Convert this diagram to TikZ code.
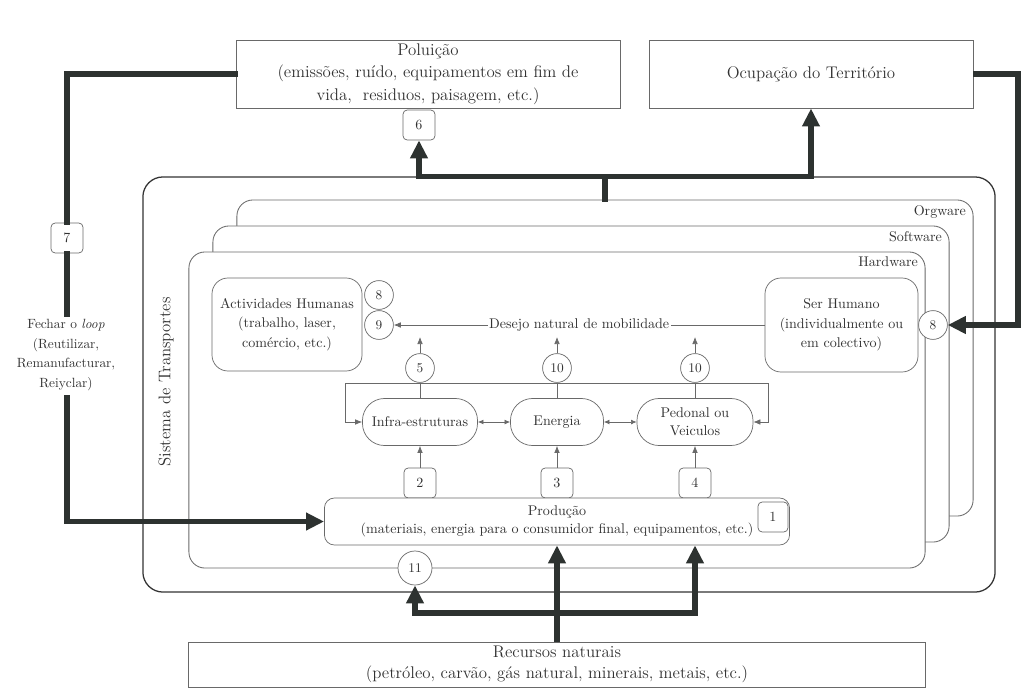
\documentclass[tikz,border=0pt]{standalone}
\usepackage{xcolor}
\definecolor{dgray}{RGB}{45,50,48}
\definecolor{lgray}{RGB}{105,105,105}
\definecolor{tgray}{RGB}{50,50,50}
\usetikzlibrary{arrows.meta,positioning,calc}

\begin{document}
\begin{tikzpicture}[
  x=0.025cm, y=-0.025cm,
  every node/.style={text=tgray},
  bigbox/.style={draw=lgray,line width=0.6pt,align=center,inner sep=0pt,
                 font=\fontsize{12}{16}\selectfont},
  layer/.style={draw=lgray,line width=0.6pt,fill=white,rounded corners=0.4cm,
                minimum width=18.4cm,minimum height=7.9cm},
  roundbox/.style={draw=lgray,line width=0.5pt,fill=white,rounded corners=0.4cm,
                   align=center,font=\fontsize{10}{14}\selectfont},
  pill/.style={draw=lgray,line width=0.5pt,fill=white,rounded corners=0.55cm,
               align=center,minimum height=1.175cm,inner sep=0pt,
               font=\fontsize{10}{12.5}\selectfont},
  num/.style={draw=lgray,line width=0.5pt,fill=white,rounded corners=3pt,
              minimum width=0.8cm,minimum height=0.75cm,inner sep=0pt,
              font=\fontsize{10}{11}\selectfont},
  numc/.style={draw=lgray,line width=0.5pt,fill=white,circle,minimum size=0.72cm,
               inner sep=0pt,font=\fontsize{9.5}{10}\selectfont},
  lyr/.style={font=\fontsize{10}{12}\selectfont,anchor=north east,inner sep=1pt},
  link/.style={draw=lgray,line width=0.5pt},
  tip/.style={-{Latex[length=5pt,width=4pt]}},
  bigline/.style={draw=dgray,line width=4pt,line cap=rect},
  bigarrow/.style={draw=dgray,line width=4pt,-{Triangle[length=0.45cm,width=0.42cm]}},
]
  \useasboundingbox (0,0) rectangle (1022,692);

  % Outputs of the system
  \node[bigbox,minimum width=9.6cm,minimum height=1.7cm] (pol) at (428,74)
       {Poluição\\(emissões, ruído, equipamentos em fim de\\vida,\ \ residuos, paisagem, etc.)};
  \node[bigbox,minimum width=8.1cm,minimum height=1.7cm] (ocup) at (811,74) {Ocupação do Território};
  \node[num] (n6) at (419,125) {6};

  % Transport system and its layers
  \node[draw=black!80,line width=0.9pt,rounded corners=0.5cm,
        minimum width=21.3cm,minimum height=10.375cm] (sys) at (569,384.5) {};
  \node[layer] (org)  at (605,358) {};
  \node[layer] (soft) at (581,384) {};
  \node[layer] (hard) at (557,410) {};
  \node[lyr] at ($(org.north east)+(-6,4)$)  {Orgware};
  \node[lyr] at ($(soft.north east)+(-6,4)$) {Software};
  \node[lyr] at ($(hard.north east)+(-6,4)$) {Hardware};
  \node[font=\fontsize{12}{14}\selectfont,rotate=90] (sysname) at (166,382) {Sistema de Transportes};

  % Human side
  \node[roundbox,minimum width=3.75cm,minimum height=2.325cm] (act) at (287,324.5)
       {Actividades Humanas\\(trabalho, laser,\\comércio, etc.)};
  \node[numc] (n8a) at (379,295) {8};
  \node[numc] (n9)  at (379,325) {9};
  \node[roundbox,minimum width=3.825cm,minimum height=2.35cm] (ser) at (841.5,325)
       {Ser Humano\\(individualmente ou\\em colectivo)};
  \node[numc] (n8b) at (933,325) {8};

  % Means
  \node[pill,minimum width=2.875cm] (infra) at (420,422) {Infra-estruturas};
  \node[pill,minimum width=2.325cm] (ener)  at (557,422) {Energia};
  \node[pill,minimum width=2.9cm]   (ped)   at (695,422) {Pedonal ou\\Veiculos};
  \node[numc] (n5)   at (420,368) {5};
  \node[numc] (n10a) at (557,368) {10};
  \node[numc] (n10b) at (695,368) {10};
  \coordinate (busL) at (345,383);
  \coordinate (busR) at (768,383);
  \coordinate (wish) at (557,337);

  % Production
  \node[num] (n2) at (420,483) {2};
  \node[num] (n3) at (557,483) {3};
  \node[num] (n4) at (695,483) {4};
  \node[draw=lgray,line width=0.5pt,fill=white,rounded corners=0.25cm,align=center,
        minimum width=11.625cm,minimum height=1.175cm,inner sep=0pt,
        font=\fontsize{10}{12.5}\selectfont] (prod) at (557,521.5)
       {Produção\\(materiais, energia para o consumidor final, equipamentos, etc.)};
  \node[num,minimum width=0.75cm] (n1) at (773,517) {1};
  \node[numc,minimum size=0.85cm] (n11) at (415,568) {11};

  % Resources
  \node[bigbox,minimum width=18.425cm,minimum height=1.125cm,
        font=\fontsize{12}{15}\selectfont] (rec) at (557,664.5)
       {Recursos naturais\\(petróleo, carvão, gás natural, minerais, metais, etc.)};

  % Loop
  \node[num] (n7) at (67,238) {7};
  \node[align=center,font=\fontsize{9.5}{14}\selectfont,inner sep=3pt] (loop) at (66,355)
       {Fechar o \textit{loop}\\(Reutilizar,\\Remanufacturar,\\Reiyclar)};

  % Thin links
  \draw[link,tip] (ser.west) -- node[fill=white,inner sep=1pt,font=\fontsize{10}{12}\selectfont]
       {Desejo natural de mobilidade} (n9.east);
  \draw[link,{Latex[length=5pt,width=4pt]}-{Latex[length=5pt,width=4pt]}]
       (infra.west) -| (busL) -- (busR) |- (ped.east);
  \draw[link,{Latex[length=4pt,width=3.5pt]}-{Latex[length=4pt,width=3.5pt]}] (infra) -- (ener);
  \draw[link,{Latex[length=4pt,width=3.5pt]}-{Latex[length=4pt,width=3.5pt]}] (ener) -- (ped);
  \draw[link] (n5) -- (infra);
  \draw[link] (n10a) -- (ener);
  \draw[link] (n10b) -- (ped);
  \draw[link,tip] (n5) -- (n5 |- wish);
  \draw[link,tip] (n10a) -- (n10a |- wish);
  \draw[link,tip] (n10b) -- (n10b |- wish);
  \draw[link,tip] (n2) -- (infra);
  \draw[link,tip] (n3) -- (ener);
  \draw[link,tip] (n4) -- (ped);

  % Thick flows
  \coordinate (lturn) at (67,74);
  \coordinate (rturn) at (1018,74);
  \coordinate (fork) at (557,613);
  \draw[bigline] (org.north) -- (org.north |- sys.north);
  \draw[bigarrow] (org.north |- sys.north) -| (n6.south);
  \draw[bigarrow] (org.north |- sys.north) -| (ocup.south);
  \draw[bigarrow] (ocup.east) -- (rturn) |- (n8b.east);
  \draw[bigline] (pol.west) -- (lturn) -- (n7.north);
  \draw[bigline] (n7.south) -- (n7.south |- loop.north);
  \draw[bigarrow] (n7.south |- loop.south) |- (prod.west);
  \draw[bigarrow] (rec.north) -- (prod.south);
  \draw[bigarrow] (fork) -| (n11.south);
  \draw[bigarrow] (fork) -| (n4 |- prod.south);
\end{tikzpicture}
\end{document}
